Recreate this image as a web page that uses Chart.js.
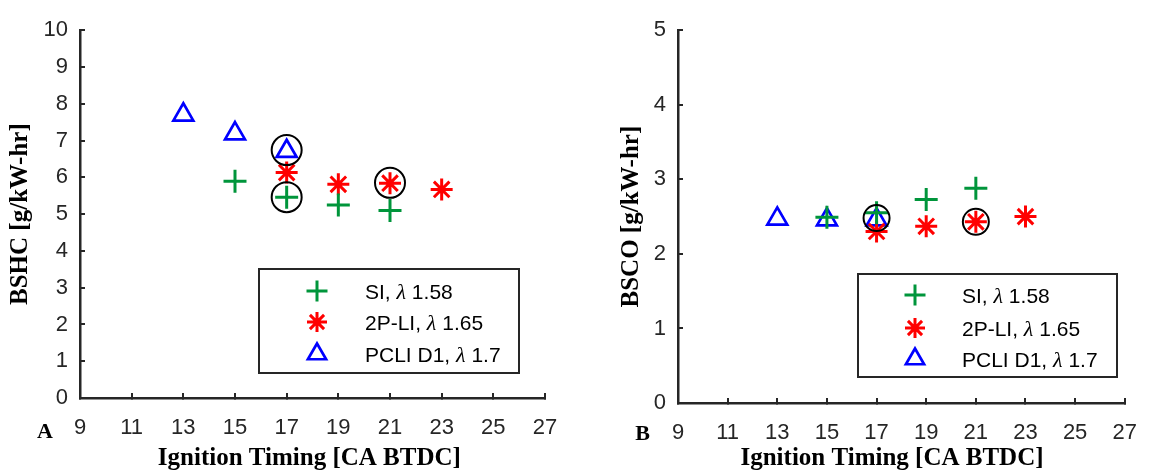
<!DOCTYPE html>
<html><head><meta charset="utf-8">
<script src="https://cdn.jsdelivr.net/npm/chart.js@4.4.1/dist/chart.umd.min.js"></script>
<style>
html,body{margin:0;padding:0;background:#fff;}
#wrap{position:relative;width:1159px;height:474px;background:#fff;}
.pane{position:absolute;top:0;height:474px;}
</style></head><body>
<div id="wrap">
<div class="pane" style="left:0;width:580px"><canvas id="cA"></canvas></div>
<div class="pane" style="left:580px;width:579px"><canvas id="cB"></canvas></div>
</div>
<script>
// ---- data ----
const timingSI = [15, 17, 19, 21];
const timing2PLI = [17, 19, 21, 23];
const timingPCLI = [13, 15, 17];

const bshcSI = [5.89, 5.46, 5.25, 5.10];
const bshc2PLI = [6.13, 5.81, 5.84, 5.67];
const bshcPCLI = [7.70, 7.19, 6.71];
const bshcCircledX = [17, 17, 21];
const bshcCircledY = [6.74, 5.46, 5.85];

const bscoSI = [2.49, 2.55, 2.73, 2.88];
const bsco2PLI = [2.30, 2.37, 2.43, 2.50];
const bscoPCLI = [2.47, 2.46, 2.46];
const bscoCircledX = [17, 21];
const bscoCircledY = [2.48, 2.43];

const seriesNames = ['SI, ', '2P-LI, ', 'PCLI D1, '];
const seriesLambda = ['1.58', '1.65', '1.7'];
const xTitle = 'Ignition Timing [CA BTDC]';

const GREEN = '#00953B', RED = '#FF0000', BLUE = '#0000FF', AX = '#262626';

function pts(xs, ys) { return xs.map((x, i) => ({x: x, y: ys[i]})); }

const overlay = {
  id: 'overlay',
  afterDraw(chart, args, o) {
    const ctx = chart.ctx;
    ctx.save();
    ctx.font = 'bold 22px "Liberation Serif"';
    ctx.fillStyle = '#000';
    ctx.textAlign = 'center';
    ctx.textBaseline = 'alphabetic';
    ctx.fillText(o.panel, o.panelX, o.panelY);
    const b = o.box;
    ctx.fillStyle = '#fff';
    ctx.fillRect(b.x, b.y, b.w, b.h);
    ctx.strokeStyle = AX;
    ctx.lineWidth = 2;
    ctx.strokeRect(b.x, b.y, b.w, b.h);
    let row = 0;
    chart.data.datasets.forEach(ds => {
      if (ds.legendName === undefined) return;
      const cy = b.y + b.rows[row];
      ctx.strokeStyle = ds.pointBorderColor;
      ctx.fillStyle = 'rgba(0,0,0,0)';
      ctx.lineWidth = ds.pointBorderWidth;
      Chart.helpers.drawPoint(ctx, {pointStyle: ds.pointStyle, radius: ds.pointRadius - 1, rotation: 0, borderWidth: ds.pointBorderWidth}, b.x + b.markX, cy);
      let tx = b.x + b.textX;
      const base = cy + 8;
      ctx.fillStyle = '#000';
      ctx.textAlign = 'left';
      ctx.font = '21px "Liberation Sans", Arial';
      ctx.fillText(ds.legendName, tx, base);
      tx += ctx.measureText(ds.legendName).width;
      ctx.font = 'italic 22px "Liberation Serif"';
      ctx.fillText('\u03bb', tx, base);
      tx += ctx.measureText('\u03bb').width;
      ctx.font = '21px "Liberation Sans", Arial';
      ctx.fillText(' ' + ds.legendLambda, tx, base);
      row++;
    });
    ctx.restore();
  }
};

function makeChart(id, p) {
  const datasets = [
    {data: pts(p.cx, p.cy), pointStyle: 'circle', pointRadius: p.circleR, pointBorderWidth: 2,
     pointBorderColor: '#000', pointBackgroundColor: 'rgba(0,0,0,0)', order: 0},
    {data: pts(timingSI, p.si), pointStyle: 'cross', pointRadius: 11.5, pointBorderWidth: 3,
     pointBorderColor: GREEN, pointBackgroundColor: 'rgba(0,0,0,0)', order: 1,
     legendName: seriesNames[0], legendLambda: seriesLambda[0]},
    {data: pts(timing2PLI, p.li), pointStyle: 'star', pointRadius: 11, pointBorderWidth: 3,
     pointBorderColor: RED, pointBackgroundColor: 'rgba(0,0,0,0)', order: 2,
     legendName: seriesNames[1], legendLambda: seriesLambda[1]},
    {data: pts(timingPCLI, p.pc), pointStyle: 'triangle', pointRadius: 11.5, pointBorderWidth: 2.7,
     pointBorderColor: BLUE, pointBackgroundColor: 'rgba(0,0,0,0)', order: 3,
     legendName: seriesNames[2], legendLambda: seriesLambda[2]}
  ];
  datasets.forEach(d => { d.showLine = false; d.pointHoverRadius = d.pointRadius; });
  return new Chart(document.getElementById(id), {
    type: 'scatter',
    data: {datasets: datasets},
    plugins: [overlay],
    options: {
      responsive: true, maintainAspectRatio: false, animation: false,
      events: [],
      layout: {padding: {left: 0, top: 15, right: p.padRight, bottom: 0}},
      plugins: {legend: {display: false}, tooltip: {enabled: false},
        overlay: {panel: p.panel, panelX: p.panelX, panelY: p.panelY, box: p.box}},
      scales: {
        x: {
          type: 'linear', min: 9, max: 27,
          afterFit: s => { s.height = p.xH; },
          border: {display: true, color: AX, width: 2.5},
          grid: {drawOnChartArea: false, drawTicks: true, tickLength: -5, color: AX, lineWidth: 2},
          ticks: {stepSize: 2, color: AX, padding: 22, font: {family: '"Liberation Sans", Arial', size: 22}},
          title: {display: true, text: xTitle + p.xTitlePad, color: '#000', padding: {top: 0, bottom: 0},
            font: {family: '"Liberation Serif", "Times New Roman"', size: 25, weight: 'bold'}}
        },
        y: {
          type: 'linear', min: 0, max: p.yMax,
          afterFit: s => { s.width = p.yW; },
          border: {display: true, color: AX, width: 2.5},
          grid: {drawOnChartArea: false, drawTicks: true, tickLength: -5, color: AX, lineWidth: 2},
          ticks: {stepSize: 1, color: AX, padding: 17, font: {family: '"Liberation Sans", Arial', size: 22}},
          title: {display: true, text: p.yTitle, color: '#000', padding: {top: p.yTitlePad, bottom: 0},
            font: {family: '"Liberation Serif", "Times New Roman"', size: 25, weight: 'bold'}}
        }
      }
    }
  });
}

makeChart('cA', {
  cx: bshcCircledX, cy: bshcCircledY, circleR: 15, si: bshcSI, li: bshc2PLI, pc: bshcPCLI,
  yMax: 10, yTitle: 'BSHC [g/kW-hr]', yW: 80, xH: 76, padRight: 35, yTitlePad: 6, xTitlePad: ' ',
  panel: 'A', panelX: 45, panelY: 438,
  box: {x: 259, y: 269, w: 260, h: 104, markX: 58, textX: 106, rows: [22, 53, 85]}
});
makeChart('cB', {
  cx: bscoCircledX, cy: bscoCircledY, circleR: 13, si: bscoSI, li: bsco2PLI, pc: bscoPCLI,
  yMax: 5, yTitle: 'BSCO [g/kW-hr]', yW: 98, xH: 71, padRight: 17, yTitlePad: 37, xTitlePad: '   ',
  panel: 'B', panelX: 62.5, panelY: 440,
  box: {x: 278, y: 274, w: 259, h: 103, markX: 57, textX: 104, rows: [21, 54, 85]}
});
</script>
</body></html>
